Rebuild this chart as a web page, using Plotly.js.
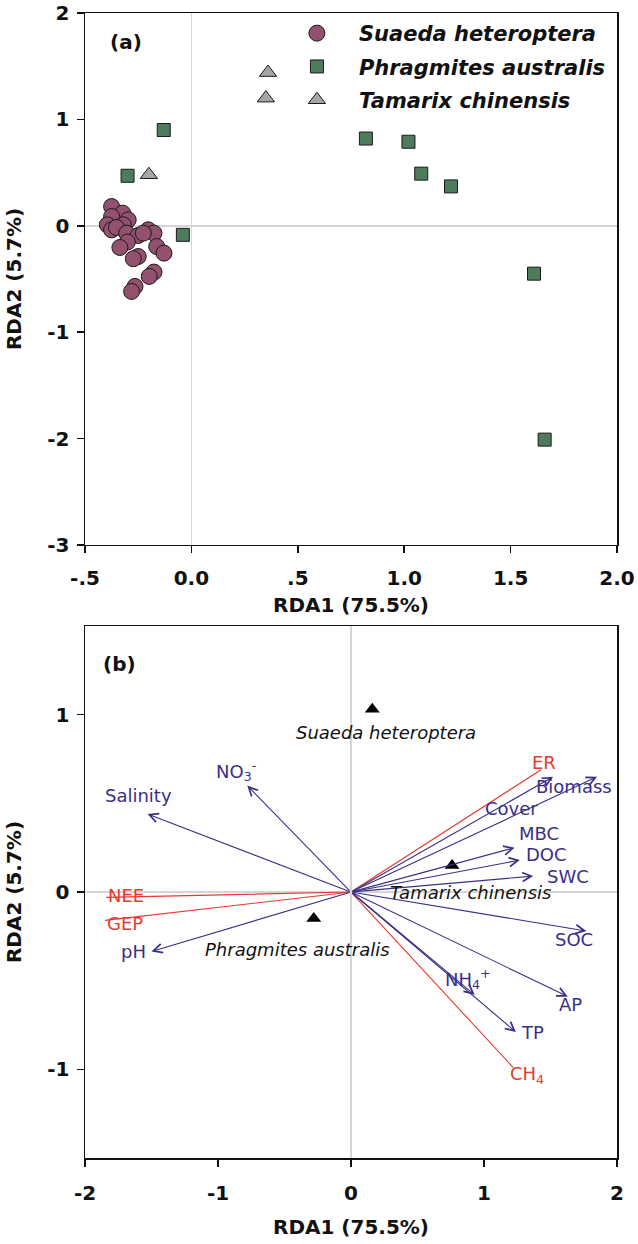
<!DOCTYPE html>
<html><head><meta charset="utf-8">
<script src="https://cdn.plot.ly/plotly-3.0.1.min.js"></script>
<style>html,body{margin:0;padding:0;background:#fff}#chart{width:638px;height:1244px}</style>
</head><body><div id="chart"></div>
<script>
// ---------- Panel (a): sample scores ----------
const suaedaX = [-0.375,-0.323,-0.375,-0.297,-0.395,-0.375,-0.320,-0.352,-0.304,-0.250,-0.203,-0.176,-0.226,-0.301,-0.336,-0.163,-0.129,-0.250,-0.273,-0.176,-0.198,-0.265,-0.281];
const suaedaY = [0.181,0.119,0.087,0.056,0.009,-0.038,0.009,-0.016,-0.069,-0.091,-0.038,-0.069,-0.069,-0.153,-0.204,-0.195,-0.257,-0.289,-0.310,-0.435,-0.476,-0.570,-0.617];
const phragX = [-0.30,-0.13,-0.04,0.82,1.02,1.08,1.22,1.61,1.66];
const phragY = [0.47,0.90,-0.085,0.82,0.79,0.49,0.37,-0.45,-2.01];
const tamX = [0.36,0.35,-0.20];
const tamY = [1.44,1.20,0.48];
const xTicksA = [-0.5,0,0.5,1,1.5,2];
const xTickTextA = ['-.5','0.0','.5','1.0','1.5','2.0'];
const yTicksA = [-3,-2,-1,0,1,2];
const yTickTextA = ['-3','-2','-1','0','1','2'];

// ---------- Panel (b): biplot ----------
const envNames = ['Salinity','NO<sub>3</sub><sup>-</sup>','pH','Biomass','Cover','MBC','DOC','SWC','SOC','NH<sub>4</sub><sup>+</sup>','AP','TP'];
const envX = [-1.53,-0.78,-1.50,1.85,1.52,1.23,1.27,1.37,1.77,0.93,1.63,1.24];
const envY = [0.44,0.60,-0.335,0.65,0.65,0.25,0.18,0.09,-0.22,-0.58,-0.59,-0.79];
const fluxNames = ['ER','NEE','GEP','CH<sub>4</sub>'];
const fluxX = [1.43,-1.84,-1.85,1.22];
const fluxY = [0.69,-0.03,-0.16,-0.99];
const siteNames = ['Suaeda heteroptera','Tamarix chinensis','Phragmites australis'];
const siteX = [0.16,0.76,-0.28];
const siteY = [1.03,0.15,-0.15];
const xTicksB = [-2,-1,0,1,2];
const xTickTextB = ['-2','-1','0','1','2'];
const yTicksB = [-1,0,1];
const yTickTextB = ['-1','0','1'];

// ---------- styles ----------
const FONT = 'DejaVu Sans, Arial, sans-serif';
const BLUE = '#3a2f87', RED = '#e8392f';
const envShift = [[-9,18],[-11,15],[-18,0],[-23,-10],[-42,-32],[24,14],[27,6],[35,0],[-12,-8],[-7,16],[3,-8],[17,0]];
const fluxShift = [[3,7],[20,2],[20,-3],[14,-7]];
const siteShift = [[14,-23],[18,-27],[-16,-31]];

const traces = [
  {x: suaedaX, y: suaedaY, type:'scatter', mode:'markers', name:'Suaeda heteroptera', legendgroup:'g1', xaxis:'x', yaxis:'y',
   marker:{symbol:'circle', size:16, color:'#93506f', line:{color:'#1a1a1a', width:1}}},
  {x: phragX, y: phragY, type:'scatter', mode:'markers', name:'Phragmites australis', legendgroup:'g2', xaxis:'x', yaxis:'y',
   marker:{symbol:'square', size:13, color:'#4f7b5d', line:{color:'#1a1a1a', width:1}}},
  {x: tamX, y: tamY, type:'scatter', mode:'markers', name:'Tamarix chinensis', legendgroup:'g3', xaxis:'x', yaxis:'y',
   marker:{symbol:'triangle-up', size:15, color:'#a6a6a6', line:{color:'#1a1a1a', width:1}}},
  {x: siteX, y: siteY, type:'scatter', mode:'markers', showlegend:false, xaxis:'x2', yaxis:'y2',
   marker:{symbol:'triangle-up', size:13, color:'#000'}}
];

const annotations = [];
fluxNames.forEach((n,i)=>{
  annotations.push({xref:'x2', yref:'y2', axref:'x2', ayref:'y2', x:fluxX[i], y:fluxY[i], ax:0, ay:0,
    text:'', showarrow:true, arrowhead:0, arrowwidth:1.1, arrowcolor:RED, standoff:0, startstandoff:0});
  annotations.push({xref:'x2', yref:'y2', x:fluxX[i], y:fluxY[i], text:n, showarrow:false,
    xanchor:'center', yanchor:'middle',
    xshift:fluxShift[i][0], yshift:fluxShift[i][1], font:{family:FONT, size:18, color:RED}});
});
envNames.forEach((n,i)=>{
  annotations.push({xref:'x2', yref:'y2', axref:'x2', ayref:'y2', x:envX[i], y:envY[i], ax:0, ay:0,
    text:'', showarrow:true, arrowhead:5, arrowsize:1.6, arrowwidth:1.1, arrowcolor:BLUE, standoff:0, startstandoff:0});
  annotations.push({xref:'x2', yref:'y2', x:envX[i], y:envY[i], text:n, showarrow:false,
    xanchor:'center', yanchor:'middle',
    xshift:envShift[i][0], yshift:envShift[i][1], font:{family:FONT, size:18, color:BLUE}});
});
siteNames.forEach((n,i)=>{
  annotations.push({xref:'x2', yref:'y2', x:siteX[i], y:siteY[i], text:n, showarrow:false,
    xanchor:'center', yanchor:'middle',
    xshift:siteShift[i][0], yshift:siteShift[i][1], font:{family:FONT, size:18, color:'#111', style:'italic'}});
});
annotations.push({xref:'x domain', yref:'y domain', x:0.077, y:0.945, xanchor:'center', yanchor:'middle',
  text:'(a)', showarrow:false, font:{family:FONT, size:20, color:'#111', weight:'bold'}});
annotations.push({xref:'x2 domain', yref:'y2 domain', x:0.064, y:0.929, xanchor:'center', yanchor:'middle',
  text:'(b)', showarrow:false, font:{family:FONT, size:20, color:'#111', weight:'bold'}});

const tickFont = {family:FONT, size:20, color:'#111', weight:'bold'};
const titleFont = {family:FONT, size:20, color:'#111', weight:'bold'};
const axBase = {showline:true, mirror:true, linecolor:'#111', linewidth:1.5, ticks:'outside', ticklen:7,
  tickwidth:1.5, tickcolor:'#111', showgrid:false, zeroline:true, zerolinecolor:'#d6d6d6', zerolinewidth:1.5,
  tickfont:tickFont, automargin:false};

const layout = {
  width:638, height:1244, paper_bgcolor:'#fff', plot_bgcolor:'#fff',
  margin:{l:85, r:21, t:13, b:86},
  showlegend:true,
  legend:{x:0.357, y:1.0, xanchor:'left', yanchor:'top', bgcolor:'rgba(0,0,0,0)', traceorder:'grouped', tracegroupgap:3,
    font:{family:FONT, size:21, color:'#111', weight:'bold', style:'italic'}, itemwidth:74},
  xaxis:Object.assign({}, axBase, {domain:[0,1], anchor:'y', range:[-0.5,2.0], tickvals:xTicksA, ticktext:xTickTextA,
    ticklabelstandoff:8, title:{text:'RDA1 (75.5%)', font:titleFont, standoff:8}}),
  yaxis:Object.assign({}, axBase, {domain:[0.5354,1], anchor:'x', range:[-3,2], tickvals:yTicksA, ticktext:yTickTextA,
    ticklabelstandoff:3, title:{text:'RDA2 (5.7%)', font:titleFont, standoff:20}}),
  xaxis2:Object.assign({}, axBase, {domain:[0,1], anchor:'y2', range:[-2,2], tickvals:xTicksB, ticktext:xTickTextB,
    ticklabelstandoff:9, title:{text:'RDA1 (75.5%)', font:titleFont, standoff:16}}),
  yaxis2:Object.assign({}, axBase, {domain:[0,0.4646], anchor:'x2', range:[-1.5,1.5], tickvals:yTicksB, ticktext:yTickTextB,
    ticklabelstandoff:3, title:{text:'RDA2 (5.7%)', font:titleFont, standoff:20}}),
  annotations:annotations
};

Plotly.newPlot('chart', traces, layout, {staticPlot:true, displayModeBar:false});
</script>
</body></html>
